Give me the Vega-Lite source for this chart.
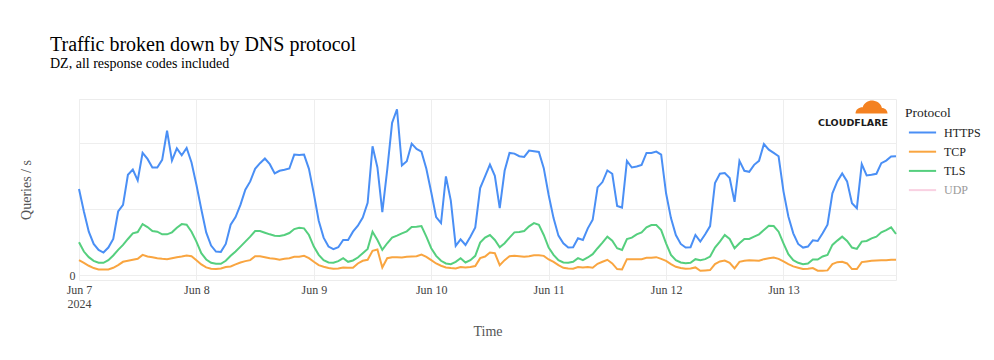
{
"$schema": "https://vega.github.io/schema/vega-lite/v6.json",
"width": 817, "height": 181,
"autosize": {"type": "none"},
"padding": {"left": 79, "top": 99, "right": 98, "bottom": 80},
"background": "white",
"config": {"font": "Liberation Serif", "view": {"stroke": "#ececec"}},
"title": {"text": "Traffic broken down by DNS protocol", "subtitle": "DZ, all response codes included", "anchor": "start", "frame": "group", "dx": -29, "offset": 28, "font": "Liberation Serif", "fontSize": 20, "fontWeight": "normal", "color": "#000", "subtitleFont": "Liberation Serif", "subtitleFontSize": 14, "subtitleColor": "#000", "subtitlePadding": 2},
"layer": [
{
"data": {"values": [
{"t":"2024-06-07T00:00","HTTPS":26.0,"TCP":4.5,"TLS":9.9},
{"t":"2024-06-07T01:00","HTTPS":19.2,"TCP":3.7,"TLS":7.1},
{"t":"2024-06-07T02:00","HTTPS":13.1,"TCP":2.8,"TLS":5.4},
{"t":"2024-06-07T03:00","HTTPS":9.4,"TCP":2.1,"TLS":4.3},
{"t":"2024-06-07T04:00","HTTPS":7.6,"TCP":1.7,"TLS":3.7},
{"t":"2024-06-07T05:00","HTTPS":6.8,"TCP":1.7,"TLS":3.7},
{"t":"2024-06-07T06:00","HTTPS":8.3,"TCP":1.7,"TLS":4.5},
{"t":"2024-06-07T07:00","HTTPS":10.9,"TCP":2.2,"TLS":5.9},
{"t":"2024-06-07T08:00","HTTPS":19.2,"TCP":3.0,"TLS":7.6},
{"t":"2024-06-07T09:00","HTTPS":21.2,"TCP":4.0,"TLS":9.1},
{"t":"2024-06-07T10:00","HTTPS":30.3,"TCP":4.3,"TLS":10.9},
{"t":"2024-06-07T11:00","HTTPS":31.9,"TCP":4.6,"TLS":12.6},
{"t":"2024-06-07T12:00","HTTPS":28.6,"TCP":4.9,"TLS":13.0},
{"t":"2024-06-07T13:00","HTTPS":36.9,"TCP":6.1,"TLS":15.4},
{"t":"2024-06-07T14:00","HTTPS":35.1,"TCP":5.6,"TLS":14.5},
{"t":"2024-06-07T15:00","HTTPS":32.5,"TCP":5.4,"TLS":13.3},
{"t":"2024-06-07T16:00","HTTPS":32.5,"TCP":5.1,"TLS":13.1},
{"t":"2024-06-07T17:00","HTTPS":34.8,"TCP":4.9,"TLS":12.3},
{"t":"2024-06-07T18:00","HTTPS":43.6,"TCP":4.8,"TLS":12.3},
{"t":"2024-06-07T19:00","HTTPS":34.6,"TCP":5.1,"TLS":12.9},
{"t":"2024-06-07T20:00","HTTPS":38.3,"TCP":5.4,"TLS":14.3},
{"t":"2024-06-07T21:00","HTTPS":36.2,"TCP":5.6,"TLS":15.4},
{"t":"2024-06-07T22:00","HTTPS":38.4,"TCP":5.9,"TLS":15.2},
{"t":"2024-06-07T23:00","HTTPS":34.0,"TCP":5.7,"TLS":13.1},
{"t":"2024-06-08T00:00","HTTPS":27.3,"TCP":4.5,"TLS":10.1},
{"t":"2024-06-08T01:00","HTTPS":19.9,"TCP":3.2,"TLS":6.6},
{"t":"2024-06-08T02:00","HTTPS":12.9,"TCP":2.3,"TLS":4.7},
{"t":"2024-06-08T03:00","HTTPS":8.9,"TCP":1.9,"TLS":3.7},
{"t":"2024-06-08T04:00","HTTPS":7.1,"TCP":1.8,"TLS":3.4},
{"t":"2024-06-08T05:00","HTTPS":7.0,"TCP":2.0,"TLS":3.4},
{"t":"2024-06-08T06:00","HTTPS":9.4,"TCP":2.4,"TLS":4.3},
{"t":"2024-06-08T07:00","HTTPS":15.2,"TCP":2.6,"TLS":5.8},
{"t":"2024-06-08T08:00","HTTPS":17.5,"TCP":3.2,"TLS":7.1},
{"t":"2024-06-08T09:00","HTTPS":21.2,"TCP":3.8,"TLS":8.6},
{"t":"2024-06-08T10:00","HTTPS":25.8,"TCP":4.2,"TLS":10.1},
{"t":"2024-06-08T11:00","HTTPS":28.3,"TCP":4.5,"TLS":11.6},
{"t":"2024-06-08T12:00","HTTPS":32.1,"TCP":5.7,"TLS":13.3},
{"t":"2024-06-08T13:00","HTTPS":33.8,"TCP":5.7,"TLS":13.3},
{"t":"2024-06-08T14:00","HTTPS":35.2,"TCP":5.4,"TLS":12.8},
{"t":"2024-06-08T15:00","HTTPS":33.5,"TCP":5.1,"TLS":12.3},
{"t":"2024-06-08T16:00","HTTPS":30.7,"TCP":4.9,"TLS":11.9},
{"t":"2024-06-08T17:00","HTTPS":31.5,"TCP":4.6,"TLS":11.8},
{"t":"2024-06-08T18:00","HTTPS":31.8,"TCP":4.9,"TLS":12.1},
{"t":"2024-06-08T19:00","HTTPS":32.2,"TCP":5.1,"TLS":12.7},
{"t":"2024-06-08T20:00","HTTPS":36.4,"TCP":5.5,"TLS":13.9},
{"t":"2024-06-08T21:00","HTTPS":36.3,"TCP":5.5,"TLS":14.3},
{"t":"2024-06-08T22:00","HTTPS":36.4,"TCP":5.8,"TLS":14.1},
{"t":"2024-06-08T23:00","HTTPS":32.1,"TCP":5.1,"TLS":12.1},
{"t":"2024-06-09T00:00","HTTPS":24.6,"TCP":4.0,"TLS":8.6},
{"t":"2024-06-09T01:00","HTTPS":16.4,"TCP":3.0,"TLS":6.1},
{"t":"2024-06-09T02:00","HTTPS":11.3,"TCP":2.5,"TLS":4.5},
{"t":"2024-06-09T03:00","HTTPS":8.6,"TCP":2.1,"TLS":3.8},
{"t":"2024-06-09T04:00","HTTPS":7.8,"TCP":1.9,"TLS":3.7},
{"t":"2024-06-09T05:00","HTTPS":8.4,"TCP":2.0,"TLS":4.2},
{"t":"2024-06-09T06:00","HTTPS":10.6,"TCP":2.3,"TLS":5.1},
{"t":"2024-06-09T07:00","HTTPS":10.6,"TCP":2.2,"TLS":4.0},
{"t":"2024-06-09T08:00","HTTPS":13.1,"TCP":2.2,"TLS":4.4},
{"t":"2024-06-09T09:00","HTTPS":14.9,"TCP":3.5,"TLS":5.3},
{"t":"2024-06-09T10:00","HTTPS":17.4,"TCP":4.3,"TLS":6.6},
{"t":"2024-06-09T11:00","HTTPS":21.8,"TCP":4.6,"TLS":7.9},
{"t":"2024-06-09T12:00","HTTPS":38.9,"TCP":7.3,"TLS":13.1},
{"t":"2024-06-09T13:00","HTTPS":32.5,"TCP":7.7,"TLS":10.6},
{"t":"2024-06-09T14:00","HTTPS":19.0,"TCP":2.3,"TLS":7.6},
{"t":"2024-06-09T15:00","HTTPS":31.8,"TCP":5.1,"TLS":9.6},
{"t":"2024-06-09T16:00","HTTPS":46.0,"TCP":5.4,"TLS":11.3},
{"t":"2024-06-09T17:00","HTTPS":50.1,"TCP":5.4,"TLS":11.9},
{"t":"2024-06-09T18:00","HTTPS":33.1,"TCP":5.3,"TLS":12.6},
{"t":"2024-06-09T19:00","HTTPS":34.4,"TCP":5.5,"TLS":13.2},
{"t":"2024-06-09T20:00","HTTPS":39.7,"TCP":5.6,"TLS":14.5},
{"t":"2024-06-09T21:00","HTTPS":38.1,"TCP":5.7,"TLS":14.6},
{"t":"2024-06-09T22:00","HTTPS":37.3,"TCP":6.2,"TLS":14.8},
{"t":"2024-06-09T23:00","HTTPS":32.1,"TCP":5.5,"TLS":11.6},
{"t":"2024-06-10T00:00","HTTPS":25.0,"TCP":4.5,"TLS":8.1},
{"t":"2024-06-10T01:00","HTTPS":17.5,"TCP":3.5,"TLS":5.8},
{"t":"2024-06-10T02:00","HTTPS":15.7,"TCP":2.8,"TLS":4.3},
{"t":"2024-06-10T03:00","HTTPS":29.8,"TCP":2.3,"TLS":3.5},
{"t":"2024-06-10T04:00","HTTPS":22.5,"TCP":2.1,"TLS":3.3},
{"t":"2024-06-10T05:00","HTTPS":8.8,"TCP":2.0,"TLS":4.0},
{"t":"2024-06-10T06:00","HTTPS":10.8,"TCP":2.4,"TLS":5.1},
{"t":"2024-06-10T07:00","HTTPS":9.1,"TCP":2.3,"TLS":3.8},
{"t":"2024-06-10T08:00","HTTPS":11.6,"TCP":2.4,"TLS":4.5},
{"t":"2024-06-10T09:00","HTTPS":14.4,"TCP":2.7,"TLS":5.8},
{"t":"2024-06-10T10:00","HTTPS":26.3,"TCP":5.1,"TLS":9.8},
{"t":"2024-06-10T11:00","HTTPS":29.8,"TCP":5.6,"TLS":11.3},
{"t":"2024-06-10T12:00","HTTPS":33.4,"TCP":6.8,"TLS":12.1},
{"t":"2024-06-10T13:00","HTTPS":30.0,"TCP":6.6,"TLS":10.6},
{"t":"2024-06-10T14:00","HTTPS":20.2,"TCP":3.0,"TLS":8.4},
{"t":"2024-06-10T15:00","HTTPS":31.5,"TCP":4.5,"TLS":9.6},
{"t":"2024-06-10T16:00","HTTPS":36.9,"TCP":5.7,"TLS":11.3},
{"t":"2024-06-10T17:00","HTTPS":36.7,"TCP":5.8,"TLS":12.9},
{"t":"2024-06-10T18:00","HTTPS":35.9,"TCP":5.7,"TLS":13.0},
{"t":"2024-06-10T19:00","HTTPS":35.7,"TCP":5.5,"TLS":13.3},
{"t":"2024-06-10T20:00","HTTPS":37.6,"TCP":5.7,"TLS":14.7},
{"t":"2024-06-10T21:00","HTTPS":37.4,"TCP":6.0,"TLS":15.7},
{"t":"2024-06-10T22:00","HTTPS":37.2,"TCP":6.0,"TLS":15.2},
{"t":"2024-06-10T23:00","HTTPS":32.3,"TCP":5.8,"TLS":12.1},
{"t":"2024-06-11T00:00","HTTPS":24.2,"TCP":4.7,"TLS":8.3},
{"t":"2024-06-11T01:00","HTTPS":17.2,"TCP":4.0,"TLS":6.1},
{"t":"2024-06-11T02:00","HTTPS":11.9,"TCP":3.0,"TLS":4.5},
{"t":"2024-06-11T03:00","HTTPS":9.6,"TCP":2.2,"TLS":3.8},
{"t":"2024-06-11T04:00","HTTPS":8.3,"TCP":2.0,"TLS":3.7},
{"t":"2024-06-11T05:00","HTTPS":8.4,"TCP":1.9,"TLS":4.0},
{"t":"2024-06-11T06:00","HTTPS":11.1,"TCP":2.4,"TLS":5.1},
{"t":"2024-06-11T07:00","HTTPS":10.6,"TCP":2.3,"TLS":4.5},
{"t":"2024-06-11T08:00","HTTPS":14.1,"TCP":2.4,"TLS":5.3},
{"t":"2024-06-11T09:00","HTTPS":16.7,"TCP":2.2,"TLS":6.3},
{"t":"2024-06-11T10:00","HTTPS":26.5,"TCP":3.4,"TLS":8.1},
{"t":"2024-06-11T11:00","HTTPS":28.1,"TCP":4.0,"TLS":9.8},
{"t":"2024-06-11T12:00","HTTPS":31.6,"TCP":4.6,"TLS":11.6},
{"t":"2024-06-11T13:00","HTTPS":30.6,"TCP":3.5,"TLS":10.4},
{"t":"2024-06-11T14:00","HTTPS":20.9,"TCP":1.8,"TLS":8.1},
{"t":"2024-06-11T15:00","HTTPS":20.4,"TCP":1.7,"TLS":7.6},
{"t":"2024-06-11T16:00","HTTPS":34.5,"TCP":4.8,"TLS":10.9},
{"t":"2024-06-11T17:00","HTTPS":32.5,"TCP":4.8,"TLS":11.3},
{"t":"2024-06-11T18:00","HTTPS":32.8,"TCP":4.8,"TLS":12.3},
{"t":"2024-06-11T19:00","HTTPS":33.3,"TCP":4.8,"TLS":12.9},
{"t":"2024-06-11T20:00","HTTPS":36.9,"TCP":5.2,"TLS":14.4},
{"t":"2024-06-11T21:00","HTTPS":36.9,"TCP":5.2,"TLS":15.1},
{"t":"2024-06-11T22:00","HTTPS":37.3,"TCP":5.4,"TLS":15.1},
{"t":"2024-06-11T23:00","HTTPS":36.4,"TCP":4.9,"TLS":13.6},
{"t":"2024-06-12T00:00","HTTPS":24.7,"TCP":4.3,"TLS":9.6},
{"t":"2024-06-12T01:00","HTTPS":17.2,"TCP":3.3,"TLS":6.1},
{"t":"2024-06-12T02:00","HTTPS":12.1,"TCP":2.5,"TLS":4.5},
{"t":"2024-06-12T03:00","HTTPS":9.4,"TCP":2.1,"TLS":3.8},
{"t":"2024-06-12T04:00","HTTPS":8.3,"TCP":1.9,"TLS":3.6},
{"t":"2024-06-12T05:00","HTTPS":8.4,"TCP":2.0,"TLS":3.7},
{"t":"2024-06-12T06:00","HTTPS":12.1,"TCP":2.3,"TLS":4.8},
{"t":"2024-06-12T07:00","HTTPS":10.1,"TCP":1.3,"TLS":4.5},
{"t":"2024-06-12T08:00","HTTPS":12.3,"TCP":1.4,"TLS":4.8},
{"t":"2024-06-12T09:00","HTTPS":14.8,"TCP":1.5,"TLS":5.6},
{"t":"2024-06-12T10:00","HTTPS":27.8,"TCP":3.3,"TLS":8.3},
{"t":"2024-06-12T11:00","HTTPS":30.6,"TCP":4.1,"TLS":10.1},
{"t":"2024-06-12T12:00","HTTPS":30.8,"TCP":4.4,"TLS":12.1},
{"t":"2024-06-12T13:00","HTTPS":29.3,"TCP":3.7,"TLS":10.9},
{"t":"2024-06-12T14:00","HTTPS":22.1,"TCP":2.0,"TLS":8.1},
{"t":"2024-06-12T15:00","HTTPS":34.5,"TCP":4.0,"TLS":9.6},
{"t":"2024-06-12T16:00","HTTPS":31.5,"TCP":4.3,"TLS":10.9},
{"t":"2024-06-12T17:00","HTTPS":31.2,"TCP":4.5,"TLS":10.9},
{"t":"2024-06-12T18:00","HTTPS":33.3,"TCP":4.4,"TLS":11.6},
{"t":"2024-06-12T19:00","HTTPS":34.5,"TCP":4.3,"TLS":12.3},
{"t":"2024-06-12T20:00","HTTPS":39.6,"TCP":4.8,"TLS":13.6},
{"t":"2024-06-12T21:00","HTTPS":37.9,"TCP":5.1,"TLS":14.9},
{"t":"2024-06-12T22:00","HTTPS":36.9,"TCP":5.3,"TLS":14.8},
{"t":"2024-06-12T23:00","HTTPS":35.9,"TCP":4.9,"TLS":13.1},
{"t":"2024-06-13T00:00","HTTPS":25.3,"TCP":4.1,"TLS":9.6},
{"t":"2024-06-13T01:00","HTTPS":17.7,"TCP":3.3,"TLS":6.3},
{"t":"2024-06-13T02:00","HTTPS":12.6,"TCP":2.6,"TLS":4.5},
{"t":"2024-06-13T03:00","HTTPS":9.4,"TCP":2.2,"TLS":3.7},
{"t":"2024-06-13T04:00","HTTPS":8.3,"TCP":1.8,"TLS":3.3},
{"t":"2024-06-13T05:00","HTTPS":8.6,"TCP":1.9,"TLS":3.5},
{"t":"2024-06-13T06:00","HTTPS":10.5,"TCP":2.1,"TLS":4.7},
{"t":"2024-06-13T07:00","HTTPS":10.3,"TCP":1.3,"TLS":4.7},
{"t":"2024-06-13T08:00","HTTPS":12.6,"TCP":1.3,"TLS":5.6},
{"t":"2024-06-13T09:00","HTTPS":15.2,"TCP":1.4,"TLS":6.1},
{"t":"2024-06-13T10:00","HTTPS":24.7,"TCP":3.3,"TLS":9.1},
{"t":"2024-06-13T11:00","HTTPS":28.3,"TCP":3.9,"TLS":10.4},
{"t":"2024-06-13T12:00","HTTPS":30.7,"TCP":4.0,"TLS":11.6},
{"t":"2024-06-13T13:00","HTTPS":28.3,"TCP":3.5,"TLS":10.3},
{"t":"2024-06-13T14:00","HTTPS":21.7,"TCP":1.8,"TLS":8.3},
{"t":"2024-06-13T15:00","HTTPS":20.2,"TCP":1.8,"TLS":7.9},
{"t":"2024-06-13T16:00","HTTPS":33.5,"TCP":3.9,"TLS":10.1},
{"t":"2024-06-13T17:00","HTTPS":30.1,"TCP":4.1,"TLS":10.3},
{"t":"2024-06-13T18:00","HTTPS":30.3,"TCP":4.3,"TLS":11.1},
{"t":"2024-06-13T19:00","HTTPS":30.6,"TCP":4.4,"TLS":11.6},
{"t":"2024-06-13T20:00","HTTPS":33.8,"TCP":4.5,"TLS":12.9},
{"t":"2024-06-13T21:00","HTTPS":34.6,"TCP":4.5,"TLS":13.6},
{"t":"2024-06-13T22:00","HTTPS":35.8,"TCP":4.6,"TLS":14.4},
{"t":"2024-06-13T23:00","HTTPS":35.9,"TCP":4.6,"TLS":12.4}
]},
"transform": [{"fold": ["HTTPS", "TCP", "TLS"], "as": ["Protocol", "v"]}],
"mark": {"type": "line", "strokeWidth": 2, "interpolate": "linear"},
"encoding": {
"x": {"field": "t", "type": "temporal", "scale": {"nice": false},
 "axis": {"title": "Time", "titleFont": "Liberation Serif", "titleFontSize": 14, "titleFontWeight": "normal", "titleColor": "#555", "titleBaseline": "alphabetic", "titleY": 55,
  "labelFont": "Liberation Serif", "labelFontSize": 12, "labelColor": "#444", "labelPadding": 4, "labelLineHeight": 14, "labelFlush": false, "labelOverlap": false,
  "ticks": false, "domain": false, "grid": true, "gridColor": "#eeeeee",
  "tickCount": {"interval": "day", "step": 1},
  "labelExpr": "timeFormat(datum.value, '%d') == '07' ? [timeFormat(datum.value, '%b %-d'), '2024'] : timeFormat(datum.value, '%b %-d')"}},
"y": {"field": "v", "type": "quantitative", "scale": {"domain": [-1.5, 53.2], "nice": false, "zero": false},
 "axis": {"title": "Queries / s", "titleFont": "Liberation Serif", "titleFontSize": 14, "titleFontWeight": "normal", "titleColor": "#555", "titleBaseline": "middle", "titleX": -53,
  "values": [0, 10, 20, 30, 40, 50], "labelExpr": "datum.value == 0 ? '0' : ''",
  "labelFont": "Liberation Serif", "labelFontSize": 12, "labelColor": "#444", "labelPadding": 4,
  "ticks": false, "domain": false, "grid": true, "gridColor": "#eeeeee"}},
"color": {"field": "Protocol", "type": "nominal",
 "scale": {"domain": ["HTTPS", "TCP", "TLS", "UDP"], "range": ["#4a8ff5", "#f9a540", "#55cf7e", "#f6b3cf"]},
 "legend": {"title": "Protocol", "orient": "right", "offset": -2, "padding": 7,
  "titleFont": "Liberation Serif", "titleFontSize": 13.5, "titleFontWeight": "normal", "titleColor": "#222", "titlePadding": 3.5,
  "labelFont": "Liberation Serif", "labelFontSize": 12, "labelColor": "#222",
  "symbolType": "M-1.6,0H1.6", "symbolSize": 289, "symbolStrokeWidth": 2, "symbolOffset": 8, "labelOffset": 12, "rowPadding": 3.2,
  "encode": {"labels": {"update": {"fill": {"signal": "datum.value === 'UDP' ? '#9a9a9a' : '#222'"}}},
             "symbols": {"update": {"opacity": {"signal": "datum.value === 'UDP' ? 0.6 : 1"}}}}}}
}
},
{
"data": {"values": [{"label": "CLOUDFLARE"}]},
"mark": {"type": "text", "font": "DejaVu Sans", "fontWeight": "bold", "fontSize": 9.5, "color": "#1b1b1b", "align": "center", "baseline": "middle"},
"encoding": {
"x": {"datum": {"year": 2024, "month": "jun", "date": 13, "hours": 14, "minutes": 12}, "type": "temporal"},
"y": {"datum": 45.9, "type": "quantitative"},
"text": {"field": "label"}
}
},
{
"data": {"values": [{"label": "logo"}]},
"mark": {"type": "point", "filled": true, "opacity": 1, "size": 1024, "color": "#f48120", "strokeWidth": 0,
 "shape": "M-1,0.35 C-1,0.1 -0.8,-0.05 -0.55,-0.05 C-0.45,-0.35 -0.15,-0.5 0.15,-0.45 C0.45,-0.4 0.6,-0.2 0.65,0.0 C0.85,0.0 1,0.15 1,0.35 Z"},
"encoding": {
"x": {"datum": {"year": 2024, "month": "jun", "date": 13, "hours": 18, "minutes": 0}, "type": "temporal"},
"y": {"datum": 50.5, "type": "quantitative"}
}
}
]
}
